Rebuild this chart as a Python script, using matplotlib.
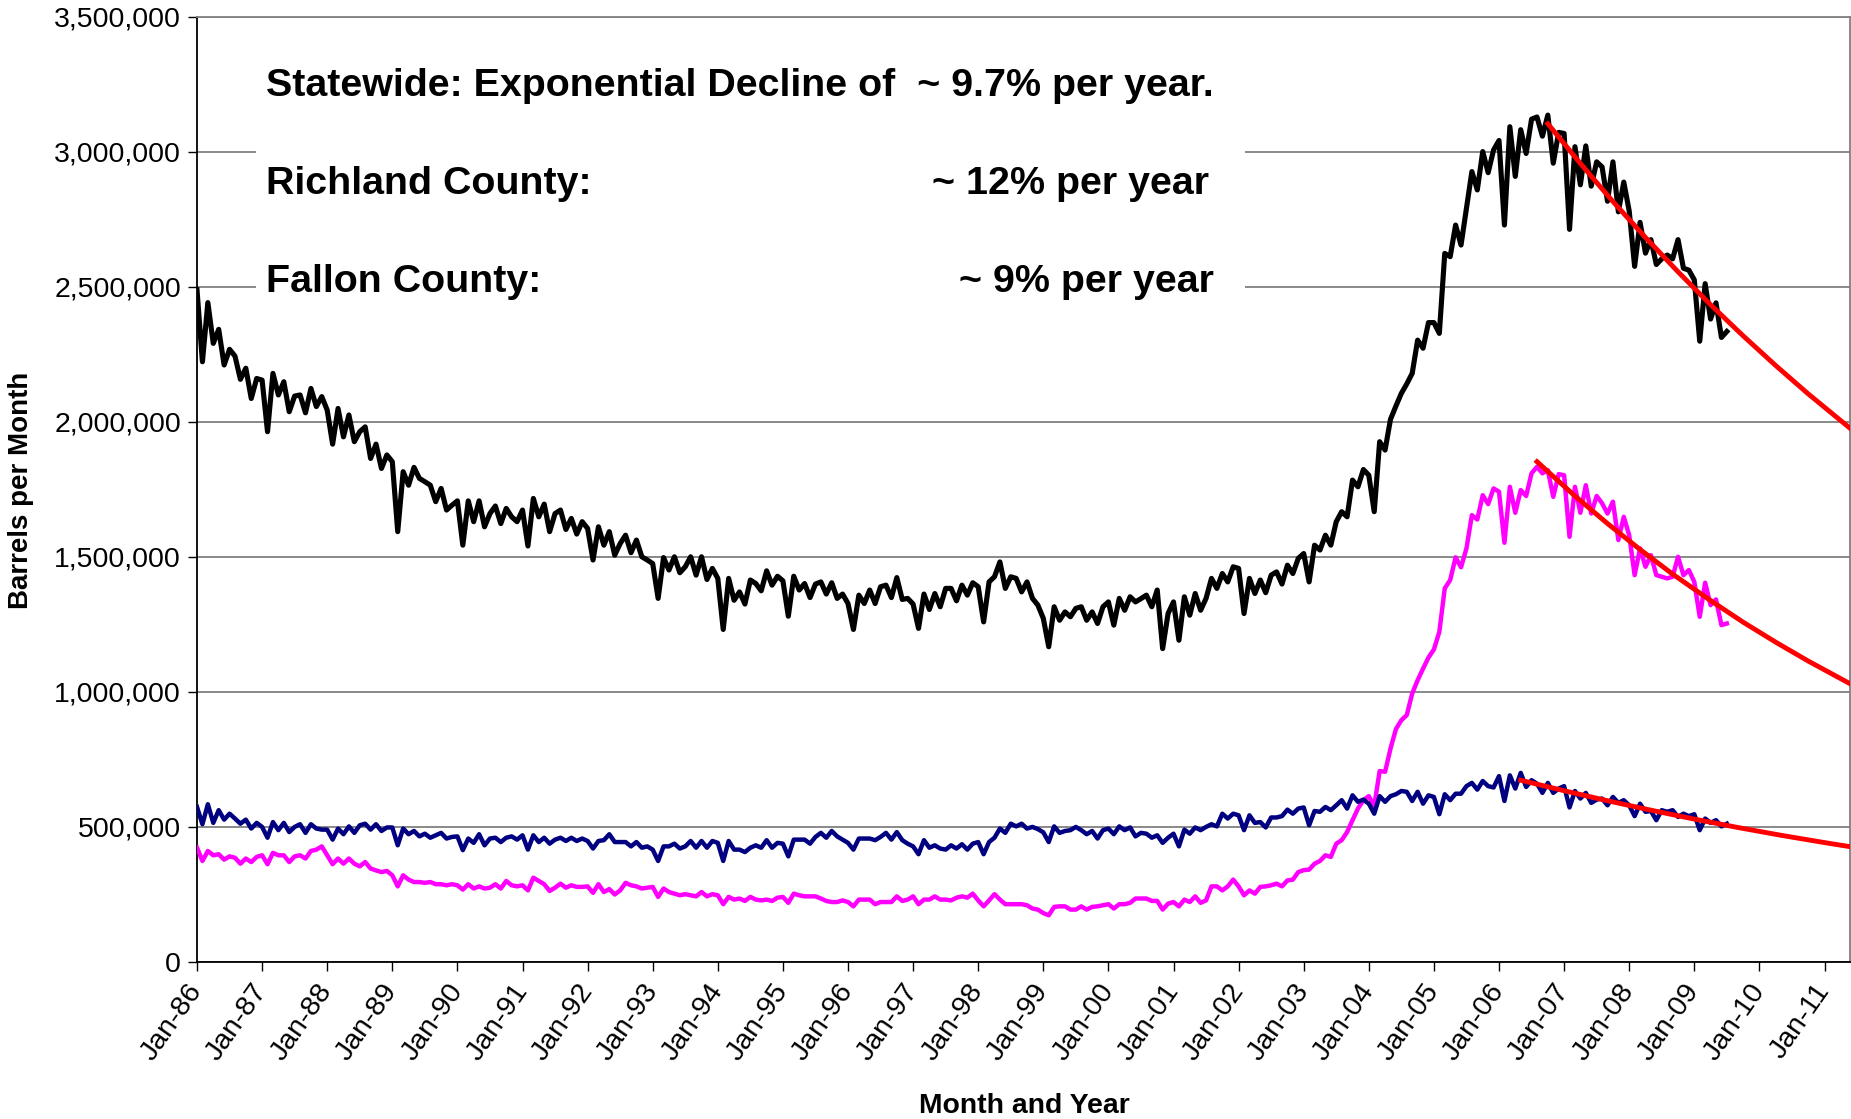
import numpy as np
import matplotlib
matplotlib.use("Agg")
import matplotlib.pyplot as plt
from matplotlib.patches import Rectangle
from matplotlib.ticker import FuncFormatter

# monthly oil production in thousands of barrels, Jan-86 .. Jul-09
statewide = [
    2488, 2222, 2441, 2290, 2342, 2210, 2268, 2243, 2157, 2198, 2086, 2160,
    2154, 1963, 2179, 2099, 2148, 2037, 2095, 2099, 2033, 2123, 2056, 2093,
    2043, 1917, 2049, 1944, 2025, 1926, 1963, 1981, 1864, 1917, 1827, 1877,
    1852, 1593, 1815, 1765, 1831, 1790, 1778, 1765, 1704, 1753, 1673, 1691,
    1707, 1543, 1707, 1630, 1707, 1611, 1660, 1688, 1623, 1679, 1648, 1630,
    1673, 1540, 1716, 1648, 1695, 1593, 1660, 1673, 1601, 1642, 1584, 1630,
    1605, 1488, 1611, 1543, 1593, 1506, 1549, 1580, 1515, 1562, 1500, 1488,
    1475, 1346, 1497, 1451, 1500, 1441, 1463, 1500, 1432, 1500, 1416, 1457,
    1420, 1231, 1420, 1339, 1370, 1325, 1414, 1401, 1374, 1448, 1395, 1428,
    1411, 1280, 1428, 1377, 1401, 1349, 1399, 1407, 1362, 1404, 1346, 1362,
    1327, 1231, 1358, 1327, 1377, 1327, 1389, 1395, 1349, 1423, 1342, 1346,
    1325, 1235, 1362, 1305, 1364, 1315, 1383, 1383, 1337, 1395, 1358, 1404,
    1389, 1259, 1407, 1426, 1481, 1383, 1426, 1420, 1370, 1407, 1346, 1321,
    1272, 1167, 1315, 1265, 1296, 1278, 1309, 1315, 1265, 1296, 1253, 1315,
    1333, 1247, 1346, 1302, 1352, 1333, 1345, 1358, 1315, 1377, 1160, 1290,
    1333, 1191, 1352, 1284, 1364, 1302, 1346, 1420, 1383, 1438, 1407, 1463,
    1457, 1290, 1420, 1364, 1414, 1367, 1432, 1444, 1399, 1469, 1438, 1494,
    1512, 1407, 1543, 1525, 1580, 1543, 1630, 1667, 1648, 1784, 1759, 1823,
    1802, 1667, 1926, 1895, 2009, 2058, 2105, 2140, 2179, 2302, 2272, 2367,
    2367, 2327, 2623, 2611, 2728, 2654, 2790, 2926, 2858, 3000, 2922, 3006,
    3041, 2728, 3092, 2908, 3081, 2993, 3120, 3128, 3057, 3135, 2957, 3071,
    3067, 2712, 3018, 2877, 3021, 2872, 2962, 2943, 2816, 2962, 2777, 2887,
    2780, 2575, 2738, 2624, 2674, 2582, 2603, 2617, 2603, 2674, 2568, 2561,
    2525, 2298, 2511, 2380, 2440, 2312, 2334,
]

richland = [
    423, 374, 411, 395, 399, 379, 391, 386, 364, 383, 370, 389,
    395, 362, 404, 395, 395, 370, 391, 395, 383, 411, 416, 428,
    395, 362, 383, 364, 383, 364, 354, 370, 346, 339, 333, 337,
    321, 280, 321, 305, 296, 296, 293, 296, 288, 288, 284, 288,
    284, 268, 288, 272, 280, 272, 275, 288, 272, 300, 284, 280,
    284, 265, 312, 300, 288, 263, 275, 290, 275, 284, 278, 278,
    280, 256, 288, 259, 270, 250, 265, 293, 284, 280, 272, 275,
    278, 241, 272, 259, 253, 247, 251, 247, 243, 259, 243, 251,
    247, 214, 241, 231, 235, 226, 241, 231, 228, 231, 226, 238,
    241, 219, 253, 247, 243, 243, 243, 235, 226, 222, 222, 228,
    222, 206, 231, 231, 231, 214, 222, 222, 222, 243, 226, 231,
    243, 214, 231, 231, 243, 231, 231, 228, 238, 243, 238, 253,
    228, 206, 228, 251, 231, 214, 214, 214, 214, 210, 198, 194,
    181, 173, 204, 206, 206, 194, 194, 206, 194, 204, 206, 210,
    214, 198, 214, 214, 219, 235, 235, 235, 226, 226, 194, 216,
    222, 206, 231, 222, 243, 219, 228, 280, 280, 265, 280, 305,
    280, 247, 265, 253, 278, 280, 284, 290, 280, 302, 305, 333,
    340, 342, 364, 374, 395, 389, 438, 451, 481, 525, 568, 599,
    614, 577, 707, 704, 790, 862, 895, 914, 994, 1043, 1086, 1127,
    1157, 1222, 1383, 1414, 1498, 1461, 1531, 1654, 1638, 1728, 1695, 1753,
    1741, 1552, 1759, 1663, 1747, 1725, 1809, 1833, 1809, 1821, 1722, 1806,
    1802, 1574, 1759, 1663, 1765, 1660, 1725, 1698, 1660, 1704, 1562, 1648,
    1580, 1432, 1531, 1463, 1506, 1432, 1426, 1420, 1426, 1500, 1432, 1451,
    1407, 1278, 1404, 1321, 1342, 1247, 1253,
]

fallon = [
    574, 510, 584, 515, 562, 527, 549, 531, 512, 527, 494, 515,
    500, 460, 518, 488, 515, 481, 500, 510, 478, 510, 494, 490,
    490, 453, 494, 473, 502, 478, 506, 512, 490, 510, 485, 498,
    498, 432, 494, 473, 485, 465, 475, 460, 469, 478, 457, 463,
    465, 414, 457, 441, 473, 432, 457, 460, 444, 460, 465, 453,
    469, 416, 469, 444, 460, 438, 453, 460, 448, 460, 448, 457,
    448, 420, 448, 451, 473, 444, 444, 444, 428, 444, 423, 428,
    416, 374, 428, 428, 438, 420, 428, 448, 423, 448, 423, 448,
    441, 374, 448, 416, 416, 407, 423, 432, 423, 451, 423, 441,
    438, 391, 453, 453, 453, 438, 463, 478, 460, 485, 465, 453,
    441, 416, 457, 457, 457, 451, 463, 478, 453, 481, 451, 438,
    428, 399, 451, 423, 432, 420, 416, 432, 420, 436, 416, 438,
    444, 399, 444, 460, 494, 478, 512, 502, 512, 494, 500, 492,
    480, 444, 502, 478, 485, 488, 500, 488, 473, 485, 457, 488,
    494, 473, 502, 488, 498, 465, 478, 475, 460, 469, 441, 460,
    475, 428, 490, 475, 498, 488, 500, 510, 502, 549, 531, 549,
    543, 488, 543, 515, 518, 498, 535, 535, 540, 564, 549, 568,
    572, 506, 559, 556, 574, 562, 580, 599, 568, 617, 593, 601,
    586, 549, 614, 593, 614, 621, 633, 630, 596, 630, 586, 617,
    611, 547, 621, 599, 623, 623, 651, 663, 638, 670, 651, 646,
    688, 596, 691, 642, 700, 648, 673, 660, 626, 663, 626, 642,
    651, 572, 633, 605, 626, 589, 601, 605, 580, 611, 589, 599,
    580, 540, 586, 556, 559, 525, 562, 556, 562, 537, 549, 540,
    547, 488, 531, 515, 525, 502, 512,
]

# exponential decline trend lines (month index from Jan-86, thousands of barrels)
state_fit_month = [249, 255, 261, 267, 273, 279, 285, 291, 297, 305]
state_fit = [3103, 2956, 2815, 2682, 2555, 2433, 2318, 2208, 2103, 1971]
richland_fit_month = [247, 254, 260, 266, 272, 279, 285, 291, 297, 305]
richland_fit = [1852, 1725, 1623, 1527, 1436, 1338, 1258, 1184, 1114, 1027]
fallon_fit_month = [244, 252, 260, 268, 276, 284, 292, 300, 305]
fallon_fit = [673, 634, 597, 562, 529, 498, 469, 442, 426]

year_labels = ["Jan-86", "Jan-87", "Jan-88", "Jan-89", "Jan-90", "Jan-91",
               "Jan-92", "Jan-93", "Jan-94", "Jan-95", "Jan-96", "Jan-97",
               "Jan-98", "Jan-99", "Jan-00", "Jan-01", "Jan-02", "Jan-03",
               "Jan-04", "Jan-05", "Jan-06", "Jan-07", "Jan-08", "Jan-09",
               "Jan-10", "Jan-11"]

plt.rcParams['font.family'] = ['Liberation Sans', 'DejaVu Sans']

W, H = 1851, 1119
fig = plt.figure(figsize=(W / 100, H / 100), dpi=100)
ax = fig.add_axes([197 / W, 1 - 962 / H, (1850 - 197) / W, (962 - 16.5) / H])

months = np.arange(len(statewide))
ax.plot(months, np.array(statewide) * 1000, color='black', lw=3.7, zorder=3)
ax.plot(months, np.array(richland) * 1000, color='#FF00FF', lw=3.2, zorder=3)
ax.plot(months, np.array(fallon) * 1000, color='#000080', lw=3.2, zorder=3)

for fm, fv in [(state_fit_month, state_fit), (richland_fit_month, richland_fit),
               (fallon_fit_month, fallon_fit)]:
    ax.plot(fm, np.array(fv) * 1000, color='#FF0000', lw=3.5, zorder=4)

ax.set_xlim(0, 304.7)
ax.set_ylim(0, 3500000)
ax.set_yticks(np.arange(0, 3500001, 500000))
ax.yaxis.set_major_formatter(FuncFormatter(lambda v, p: "{:,.0f}".format(v)))
ax.set_xticks(np.arange(len(year_labels)) * 12)
ax.set_xticklabels(year_labels, rotation=55, ha='right', va='center',
                   rotation_mode='anchor')

ax.grid(axis='y', color='#808080', lw=1.3, zorder=0)
ax.set_axisbelow(True)
ax.tick_params(axis='both', labelsize=20.5, length=6.5, width=1, color='black',
               direction='out')
ax.tick_params(axis='x', pad=11)
ax.tick_params(axis='y', pad=5)

for side in ['left', 'bottom']:
    ax.spines[side].set_color('black')
    ax.spines[side].set_linewidth(1.3)
for side in ['top', 'right']:
    ax.spines[side].set_color('#808080')
    ax.spines[side].set_linewidth(1.3)

# white text box that hides the grid lines behind the notes
ax.add_patch(Rectangle((256 / W, 1 - 313 / H), (1245 - 256) / W, (313 - 47) / H,
                       transform=fig.transFigure, facecolor='white',
                       edgecolor='none', zorder=1))

note = dict(fontsize=28.4, fontweight='bold', va='center')
fig.text(266 / W, 1 - 85.5 / H, "Statewide: Exponential Decline of  ~ 9.7% per year.",
         ha='left', **note)
fig.text(266 / W, 1 - 183.5 / H, "Richland County:", ha='left', **note)
fig.text(1209 / W, 1 - 183.5 / H, "~ 12% per year", ha='right', **note)
fig.text(266 / W, 1 - 282.5 / H, "Fallon County:", ha='left', **note)
fig.text(1214 / W, 1 - 282.5 / H, "~ 9% per year", ha='right', **note)

fig.text(1024 / W, 1 - 1106 / H, "Month and Year", ha='center', va='center',
         fontsize=20.4, fontweight='bold')
fig.text(21 / W, 1 - 490 / H, "Barrels per Month", ha='center', va='center',
         rotation=90, fontsize=20, fontweight='bold')

fig.savefig("out.png", dpi=100)
